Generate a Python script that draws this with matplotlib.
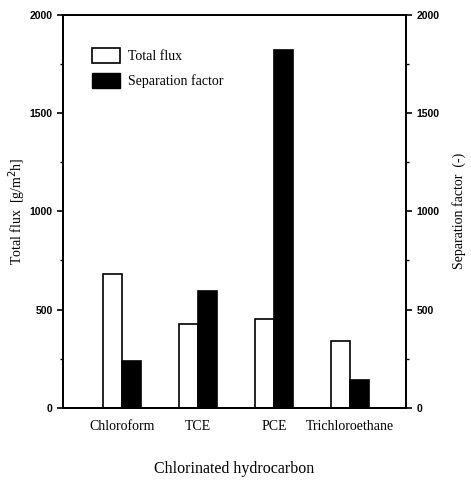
import numpy as np
import matplotlib
matplotlib.use("Agg")
import matplotlib.pyplot as plt
from matplotlib.patches import Patch

categories = ["Chloroform", "TCE", "PCE", "Trichloroethane"]
total_flux = [682, 428, 451, 342]
separation_factor = [240, 592, 1821, 140]

SERIF = "Liberation Serif"
SANS = "Liberation Sans"

fig = plt.figure(figsize=(4.71, 4.80), dpi=100)
ax = fig.add_axes([0.134, 0.1506, 0.728, 0.8184])
ax2 = ax.twinx()

x = np.arange(1, len(categories) + 1)
w = 0.25
ax.bar(x - w / 2, total_flux, w, facecolor="white", edgecolor="black", linewidth=1.2)
ax2.bar(x + w / 2, separation_factor, w, facecolor="black", edgecolor="black", linewidth=1.2)

ax.set_xlim(0.22, 4.74)
ax.set_ylim(0, 2000)
ax2.set_ylim(0, 2000)

ax.set_xticks(x)
ax.set_xticklabels(categories, fontfamily=SERIF, fontsize=10)
ax.tick_params(axis="x", length=0, pad=9)

for a in (ax, ax2):
    a.set_yticks([0, 500, 1000, 1500, 2000])
    a.set_yticks([250, 750, 1250, 1750], minor=True)
    a.tick_params(axis="y", which="major", direction="out", length=4, width=1.2,
                  labelsize=7.5)
    a.tick_params(axis="y", which="minor", direction="out", length=2.5, width=1.0)
    for lab in a.get_yticklabels():
        lab.set_fontfamily(SANS)
        lab.set_fontweight("bold")
    for s in a.spines.values():
        s.set_linewidth(1.3)

ax.set_xlabel("Chlorinated hydrocarbon", fontfamily=SERIF, fontsize=11.5, labelpad=20)
ax.set_ylabel(r"Total flux  [g/m$^2$h]", fontfamily=SERIF, fontsize=10, labelpad=1)
ax2.set_ylabel("Separation factor  (-)", fontfamily=SERIF, fontsize=10, labelpad=9)

handles = [Patch(facecolor="white", edgecolor="black", linewidth=1.2, label="Total flux"),
           Patch(facecolor="black", edgecolor="black", label="Separation factor")]
ax.legend(handles=handles, loc="upper left", bbox_to_anchor=(0.085, 0.915), frameon=False,
          prop={"family": SERIF, "size": 10}, handlelength=2.0, handleheight=1.2,
          handletextpad=0.55, labelspacing=0.75, borderpad=0, borderaxespad=0)

fig.savefig("out.png", dpi=100)
